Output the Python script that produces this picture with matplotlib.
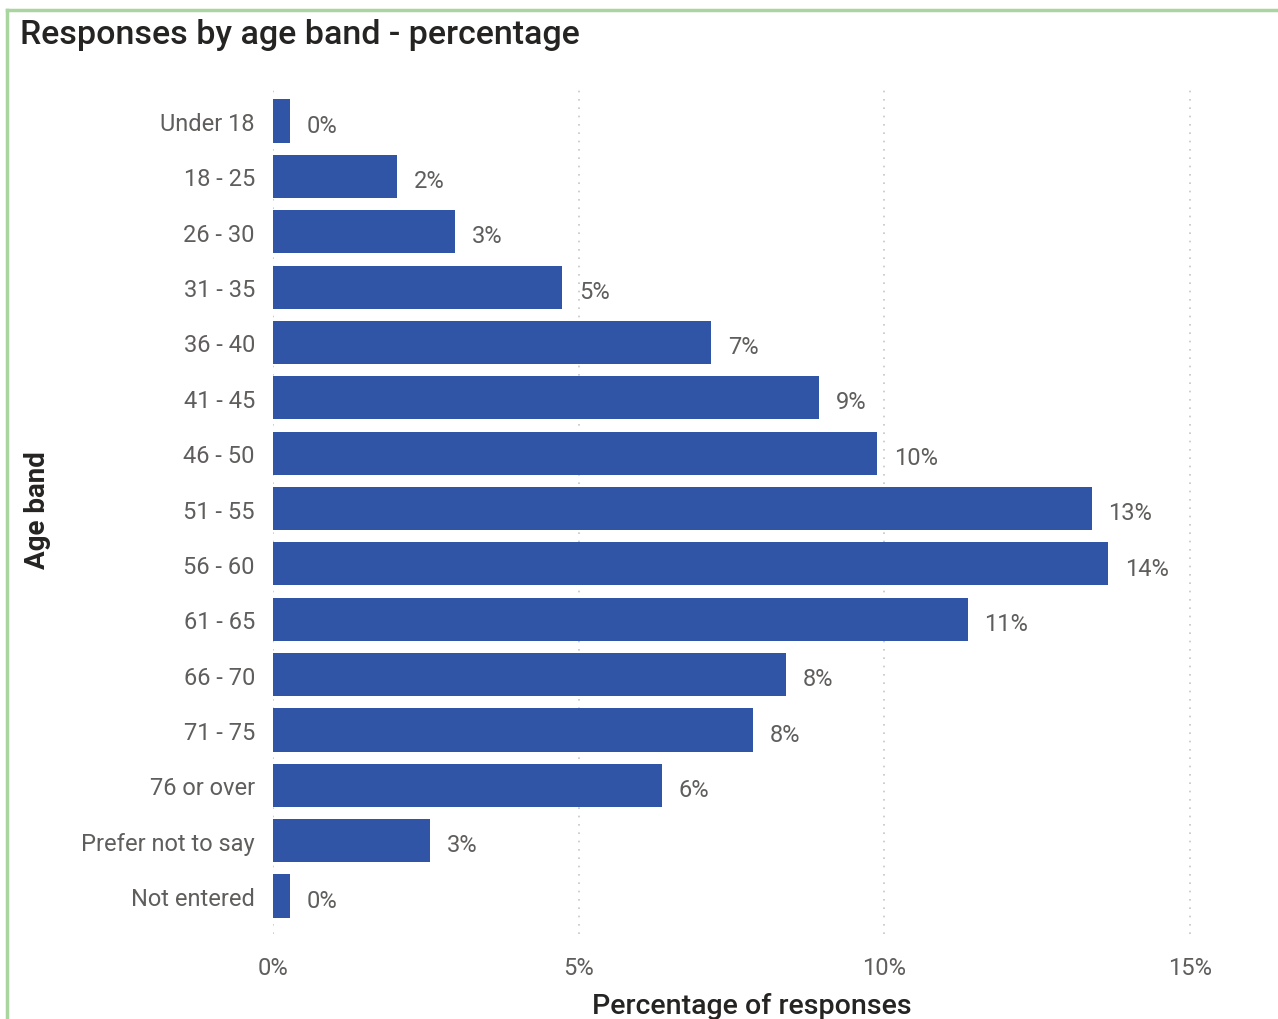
import matplotlib.pyplot as plt
from matplotlib.lines import Line2D

# Dados do gráfico
faixas = ["Under 18", "18 - 25", "26 - 30", "31 - 35", "36 - 40", "41 - 45",
          "46 - 50", "51 - 55", "56 - 60", "61 - 65", "66 - 70", "71 - 75",
          "76 or over", "Prefer not to say", "Not entered"]
percentuais = [0.28, 2.03, 2.98, 4.73, 7.17, 8.94, 9.89, 13.40, 13.67, 11.37,
               8.40, 7.86, 6.37, 2.57, 0.28]
ticks_x = [0, 5, 10, 15]

plt.rcParams["font.family"] = ["Roboto", "DejaVu Sans"]

cor_barra = "#3155A6"
cor_texto = "#605E5C"

fig = plt.figure(figsize=(12.78, 10.2), dpi=100)
ax = fig.add_axes([0.2136, 0.0833, 0.7488, 0.8304])

posicoes = list(range(len(faixas)))
ax.barh(posicoes, percentuais, height=0.78, color=cor_barra, zorder=3)

# Rótulos de dados
for y, valor in zip(posicoes, percentuais):
    ax.annotate(f"{round(valor):.0f}%", xy=(valor, y), xytext=(12, -3),
                textcoords="offset points", va="center", ha="left",
                fontsize=17, color=cor_texto)

ax.set_ylim(14.686, -0.614)
ax.set_xlim(0, 15.66)
ax.set_yticks(posicoes)
ax.set_yticklabels(faixas)
ax.set_xticks(ticks_x)
ax.set_xticklabels([f"{t}%" for t in ticks_x])
ax.tick_params(axis="both", length=0, labelsize=17, labelcolor=cor_texto)
ax.tick_params(axis="y", pad=13)
ax.tick_params(axis="x", pad=16)

ax.grid(axis="x", linestyle=(0, (1, 4)), color="#C8C6C4", linewidth=1.2, zorder=0)
for lado in ax.spines.values():
    lado.set_visible(False)

ax.set_xlabel("Percentage of responses", fontsize=20.5, color="#252423",
              fontweight="medium", labelpad=9)
fig.text(0.029, 0.5, "Age band", rotation=90, fontsize=20, color="#252423",
         fontweight="bold", ha="center", va="center")

fig.text(0.016, 0.966, "Responses by age band - percentage", fontsize=24.5,
         color="#252423", fontweight="medium", ha="left", va="center")

# Borda verde do visual
fig.add_artist(Line2D([0.0055, 1.0], [0.989, 0.989], color="#A8D5A0", linewidth=2.5))
fig.add_artist(Line2D([0.0055, 0.0055], [0.0, 0.989], color="#A8D5A0", linewidth=2.5))

plt.savefig("out.png", dpi=100)
plt.close()
